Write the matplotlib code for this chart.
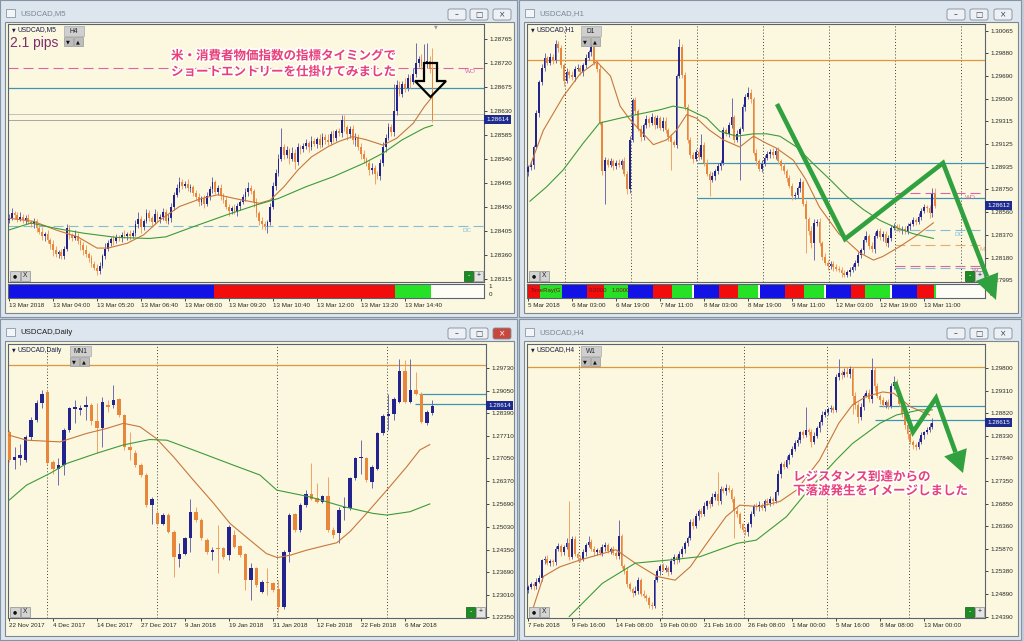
import numpy as np
import matplotlib
matplotlib.use("Agg")
import matplotlib.pyplot as plt
from matplotlib.patches import Rectangle, Polygon, FancyBboxPatch
from matplotlib.transforms import blended_transform_factory
import matplotlib.patheffects as pe

W, H = 1024, 641
plt.rcParams['font.family'] = ['Liberation Sans', 'DejaVu Sans']
JP = ['Noto Sans CJK JP', 'DejaVu Sans']

# ---------------- USDCAD M5 (points above 1.28300) ----------------
m5_base, m5_unit = 1.28300, 1e-5
m5_open0 = 126
m5_close = [130, 138, 135, 128, 132, 126, 129, 122, 118, 124,
            110, 104, 96, 100, 88, 80, 70, 62, 66, 58,
            72, 110, 98, 92, 96, 86,
            78, 70, 62, 54, 44, 36, 30,
            40, 58, 72, 82, 90, 86, 94, 92, 98, 95, 100, 96, 102,
            118, 128, 112, 124, 138, 130, 122, 136, 128, 132, 140, 124, 130, 150,
            172, 186, 196, 190, 194, 186, 188,
            176, 168, 160, 166, 156,
            170, 184, 196, 178, 186, 172,
            164, 150, 142, 148, 140,
            152, 160, 168, 178, 186, 180,
            160, 138, 124, 118, 114, 122,
            150, 190, 214, 240, 262,
            248, 256, 240, 252, 234, 262, 258,
            264, 270, 262, 274, 268, 278, 266, 282, 276, 272, 286, 280, 292, 288, 314,
            300, 286, 296, 276, 282, 262,
            250, 240, 232, 220, 224, 212, 208, 232,
            262, 280, 300, 290, 330, 378,
            362, 380, 374, 392, 384, 400,
            420, 428, 414, 418,
            424, 408,
            314]
m5_wick_up = [6, 10, 4, 6, 8, 4, 6, 8, 4, 6,
              4, 6, 8, 4, 6, 4, 8, 6, 4, 6,
              4, 8, 6, 4, 10, 6, 4, 6, 8, 4,
              6, 4, 8, 6, 4, 10, 6, 4, 8, 6,
              4, 6, 8, 4, 6, 4, 8, 12, 6, 4,
              8, 6, 4, 10, 6, 4, 8, 6, 6, 8,
              6, 8, 10, 6, 4, 8, 6, 4, 6, 8,
              4, 6, 8, 6, 10, 4, 6, 8, 4, 6,
              6, 4, 8, 6, 4, 6, 8, 10, 6, 4,
              6, 4, 8, 6, 4, 8, 6, 8, 10, 36,
              6, 8, 4, 10, 6, 8, 4, 6, 8, 4,
              10, 6, 4, 8, 6, 4, 10, 6, 8, 4,
              6, 8, 8, 4, 6, 8, 6, 4, 8, 6,
              4, 6, 8, 4, 6, 8, 10, 6, 8, 6,
              50, 10, 8, 6, 12, 8, 6, 10, 37, 6,
              8, 38, 33, 10, 40]
m5_wick_dn = [6, 4, 8, 6, 4, 6, 8, 4, 6, 8,
              6, 4, 8, 10, 6, 8, 12, 6, 8, 6,
              6, 4, 8, 6, 4, 6, 8, 10, 6, 8,
              6, 4, 8, 6, 4, 6, 4, 6, 8, 4,
              6, 8, 4, 6, 8, 4, 6, 8, 10, 6,
              4, 6, 8, 4, 6, 8, 6, 4, 6, 8,
              6, 4, 8, 6, 4, 6, 8, 6, 4, 8,
              6, 8, 4, 6, 8, 4, 6, 8, 6, 4,
              8, 6, 4, 6, 8, 4, 6, 8, 6, 10,
              6, 8, 10, 7, 12, 6, 4, 8, 6, 4,
              8, 6, 10, 4, 12, 6, 8, 4, 6, 8,
              6, 4, 8, 6, 4, 8, 6, 4, 8, 6,
              4, 6, 8, 10, 6, 8, 12, 6, 10, 8,
              6, 10, 8, 18, 6, 8, 6, 8, 4, 6,
              6, 8, 4, 6, 8, 6, 10, 4, 6, 8,
              6, 10, 8, 6, 4]
m5_ma_fast_i = [0, 9, 17, 25, 32, 36, 43, 49, 55, 62, 70, 76, 82, 91, 95, 100, 105, 110,
                116, 120, 125, 130, 136, 141, 147, 151, 154]
m5_ma_fast = [129, 123, 107, 94, 73, 73, 82, 98, 126, 151, 166, 173, 166, 157, 163, 188, 219, 244,
              263, 273, 282, 276, 266, 279, 307, 338, 357]
m5_ma_slow_i = [0, 8, 17, 27, 39, 51, 57, 67, 79, 90, 98, 108, 118, 129, 136, 143, 151, 154]
m5_ma_slow = [107, 120, 110, 101, 93, 91, 94, 113, 135, 154, 166, 188, 207, 232, 251, 276, 298, 303]
m5_ticks = [1.28765, 1.28720, 1.28675, 1.28630, 1.28585, 1.28540, 1.28495, 1.28450,
            1.28405, 1.28360, 1.28315]
m5_time_labels = ['13 Mar 2018', '13 Mar 04:00', '13 Mar 05:20', '13 Mar 06:40', '13 Mar 08:00',
                  '13 Mar 09:20', '13 Mar 10:40', '13 Mar 12:00', '13 Mar 13:20', '13 Mar 14:40']
m5_sess_start = [0, 75, 141]
m5_sess_end = [75, 141, 154]
m5_sess_color = ['#1212e6', '#f20c0c', '#26e226']
m5_wo, m5_level, m5_ask, m5_bid, m5_dc = 1.28711, 1.28673, 1.28624, 1.28614, 1.28414

# ---------------- USDCAD H1 (pips above 1.28000) ----------------
h1_base, h1_unit = 1.28000, 1e-4
h1_open0 = 89
h1_close = [93, 95, 110, 138, 164, 176, 184, 180, 185, 182,
            196, 192, 178, 165, 172, 170, 168, 175, 176, 172,
            178, 184, 189, 193, 180, 175, 130, 90, 99, 95,
            98, 94, 97, 95, 98, 88, 75, 116, 149, 140,
            125, 118, 128, 133, 130, 135, 128, 134, 126, 132,
            124, 118, 114, 112, 169, 193, 170, 143, 116, 103,
            100, 106, 102, 112, 97, 88, 83, 86, 90, 94,
            97, 124, 121, 128, 135, 116, 121, 125, 143, 152,
            155, 150, 105, 98, 92, 96, 101, 104, 106, 103,
            107, 98, 94, 90, 84, 78, 69, 70, 76, 81,
            63, 50, 40, 30, 47, 48, 30, 19, 14, 11,
            13, 10, 9, 8, 5, 4, 6, 8, 10, 14,
            20, 24, 33, 36, 28, 25, 36, 40, 35, 38,
            30, 34, 43, 44, 43, 41, 42, 40, 44, 46,
            49, 48, 52, 57, 60, 59, 55, 71, 61.2]
h1_wick_up = [2, 3, 2, 3, 2, 3, 4, 2, 3, 2,
              3, 2, 3, 2, 4, 2, 3, 2, 3, 2,
              2, 3, 2, 3, 4, 2, 3, 2, 3, 2,
              3, 2, 2, 3, 2, 4, 2, 3, 2, 3,
              2, 3, 2, 4, 2, 3, 2, 3, 2, 3,
              3, 2, 3, 2, 2, 7, 3, 2, 3, 2,
              3, 2, 3, 9, 2, 3, 2, 3, 2, 3,
              2, 3, 2, 3, 16, 2, 3, 2, 3, 2,
              5, 3, 2, 3, 2, 3, 2, 3, 2, 3,
              2, 3, 2, 3, 2, 3, 2, 3, 2, 3,
              2, 3, 2, 4, 3, 2, 3, 2, 3, 2,
              2, 2, 3, 2, 2, 3, 2, 2, 3, 2,
              3, 2, 3, 4, 2, 3, 3, 2, 3, 2,
              2, 3, 2, 3, 2, 3, 2, 2, 3, 2,
              3, 2, 3, 2, 3, 2, 3, 5, 5]
h1_wick_dn = [3, 2, 3, 2, 3, 2, 3, 2, 2, 3,
              2, 3, 2, 4, 2, 3, 2, 3, 2, 2,
              3, 2, 2, 3, 2, 3, 2, 3, 27, 2,
              2, 3, 2, 2, 3, 2, 4, 3, 2, 3,
              2, 3, 2, 2, 3, 2, 3, 2, 2, 3,
              2, 3, 23, 2, 3, 2, 3, 2, 3, 2,
              3, 2, 3, 2, 3, 2, 14, 2, 3, 2,
              3, 2, 2, 3, 2, 3, 2, 38, 2, 3,
              2, 3, 2, 3, 2, 3, 2, 2, 3, 2,
              3, 2, 3, 2, 3, 2, 3, 2, 2, 3,
              2, 28, 3, 4, 14, 3, 2, 3, 2, 3,
              2, 3, 2, 2, 3, 2, 2, 3, 2, 2,
              3, 2, 3, 2, 3, 2, 3, 2, 2, 3,
              2, 3, 2, 2, 3, 2, 3, 2, 2, 3,
              2, 3, 2, 3, 2, 3, 4, 3, 2]
h1_ma_fast_i = [0.7, 5.6, 12.8, 19, 25, 30, 33.5, 37, 40.7, 45.6, 50.4, 54, 57.7, 61.3, 66, 71,
                77, 82, 86.8, 90.4, 96.5, 101, 106, 113, 120.7, 125.6, 129, 135, 141, 147.4]
h1_ma_fast = [94, 124, 152, 171, 181, 169, 144, 133, 124, 112, 116, 124, 137, 134, 124, 116,
              110, 119, 113, 109, 99, 83, 60, 38, 22, 16, 19, 27, 36, 47]
h1_ma_slow_i = [0.7, 6.8, 12.8, 20, 26, 33.5, 39.5, 48, 52.8, 57.7, 65, 69.8, 75.9, 82, 86.8,
                91.6, 97.7, 103.8, 109.8, 115.9, 122, 128, 132.8, 140, 147.4]
h1_ma_slow = [65, 77, 91, 113, 130, 134, 137, 141, 144, 142, 134, 123, 119, 121, 121,
              119, 110, 96, 83, 69, 58, 49, 44, 38, 34]
h1_ticks = [1.30065, 1.29880, 1.29690, 1.29500, 1.29315, 1.29125, 1.28935, 1.28750,
            1.28560, 1.28370, 1.28180, 1.27995]
h1_time_labels = ['5 Mar 2018', '6 Mar 03:00', '6 Mar 19:00', '7 Mar 11:00', '8 Mar 03:00',
                  '8 Mar 19:00', '9 Mar 11:00', '12 Mar 03:00', '12 Mar 19:00', '13 Mar 11:00']
h1_day_sep = [13.3, 37.3, 61.3, 85.3, 109.3, 133.3, 157.3]
h1_sess_start = [0, 5, 13, 22, 28, 37, 46, 53, 61, 70, 77, 85, 94, 101, 109, 118, 123, 133, 142, 148]
h1_sess_end = [5, 13, 22, 28, 37, 46, 53, 60, 70, 77, 84, 94, 101, 108, 118, 123, 132, 142, 148, 149]
h1_sess_color = ['#f20c0c', '#26e226', '#1212e6', '#f20c0c', '#26e226', '#1212e6', '#f20c0c',
                 '#26e226', '#1212e6', '#f20c0c', '#26e226', '#1212e6', '#f20c0c', '#26e226',
                 '#1212e6', '#f20c0c', '#26e226', '#1212e6', '#f20c0c', '#26e226']
h1_resist = 1.29820
h1_zone_hi, h1_zone_lo, h1_zone_from = 1.28965, 1.28677, 61.4
h1_wo, h1_dc, h1_m, h1_wc1, h1_wc2, h1_piv_from = 1.28719, 1.28411, 1.28287, 1.28112, 1.28095, 133.3

# ---------------- USDCAD Daily (pips above 1.22000) ----------------
d1_base, d1_unit = 1.22000, 1e-4
d1_open = [584, 500, 505, 500, 569, 619, 668, 703, 495, 475,
           485, 589, 650, 648, 656, 663, 616, 594, 663, 663,
           680, 633, 539, 520, 485, 456, 367, 342, 312, 337,
           288, 208, 223, 268, 347, 322, 263, 228, 238, 238,
           218, 278, 245, 221, 144, 179, 110, 138, 135, 117,
           65, 228, 340, 292, 367, 401, 389, 376, 393, 292,
           283, 357, 357, 446, 505, 505, 436, 475, 579, 630,
           638, 673, 765, 673, 709, 697, 609, 641]
d1_high = [589, 539, 549, 574, 628, 678, 709, 707, 500, 505,
           594, 658, 678, 663, 690, 668, 668, 688, 678, 722,
           683, 638, 584, 530, 490, 461, 391, 352, 342, 342,
           292, 253, 273, 386, 362, 327, 268, 243, 307, 243,
           307, 292, 248, 225, 194, 184, 145, 179, 140, 144,
           233, 342, 344, 372, 411, 490, 431, 396, 451, 302,
           362, 391, 451, 510, 559, 510, 485, 584, 638, 697,
           688, 801, 796, 801, 762, 702, 648, 678]
d1_low = [495, 475, 485, 495, 559, 614, 653, 485, 460, 426,
          456, 584, 609, 633, 619, 604, 520, 539, 643, 653,
          628, 530, 500, 480, 451, 362, 312, 307, 307, 283,
          154, 184, 218, 228, 317, 263, 223, 204, 164, 208,
          204, 238, 213, 115, 85, 125, 105, 100, 110, 50,
          60, 199, 288, 288, 362, 381, 372, 372, 288, 268,
          253, 322, 352, 441, 460, 436, 416, 470, 574, 589,
          619, 668, 668, 668, 694, 609, 604, 633]
d1_close = [500, 510, 515, 569, 619, 668, 697, 490, 475, 485,
            589, 653, 658, 655, 663, 616, 594, 673, 658, 678,
            633, 539, 530, 485, 456, 367, 386, 312, 337, 288,
            213, 223, 268, 347, 322, 268, 228, 235, 236, 213,
            302, 243, 218, 144, 179, 130, 140, 135, 115, 65,
            228, 337, 292, 367, 401, 386, 376, 393, 292, 278,
            352, 362, 446, 505, 507, 441, 480, 579, 630, 638,
            682, 765, 673, 707, 697, 614, 643, 661.4]
d1_ma_fast_i = [0, 3.2, 9.3, 14.1, 17.8, 20.8, 23.8, 26.8, 29.9, 33.5, 37.2, 40.2, 43.8, 46.8,
                48.8, 51.1, 54.1, 57.8, 59.6, 62, 65, 68.7, 72.3, 74.7, 76.5]
d1_ma_fast = [574, 559, 554, 579, 594, 609, 599, 564, 510, 441, 372, 312, 263, 223,
              211, 218, 233, 248, 255, 288, 342, 411, 480, 530, 546]
d1_ma_slow_i = [0, 3.2, 7.5, 10.5, 15.9, 20.8, 25.6, 28.7, 33.5, 40.8, 45.6, 48.7, 54.7, 60.8,
                66.2, 68.7, 72.9, 76.5]
d1_ma_slow = [381, 426, 461, 490, 520, 545, 561, 559, 530, 485, 456, 411, 391, 362,
              342, 337, 347, 370]
d1_ticks = [1.29730, 1.29050, 1.28390, 1.27710, 1.27050, 1.26370, 1.25690, 1.25030,
            1.24350, 1.23690, 1.23010, 1.22350]
d1_time_labels = ['22 Nov 2017', '4 Dec 2017', '14 Dec 2017', '27 Dec 2017', '9 Jan 2018',
                  '19 Jan 2018', '31 Jan 2018', '12 Feb 2018', '22 Feb 2018', '6 Mar 2018']
d1_month_sep = [6.9, 26.9, 48.7, 68.7]
d1_zone_from_hi, d1_zone_from_lo = 74.6, 73.8

# ---------------- USDCAD H4 (pips above 1.24000) ----------------
h4_base, h4_unit = 1.24000, 1e-4
h4_open0 = 98
h4_close = [104, 110, 106, 116, 124, 162, 166, 156, 160, 158,
            186, 194, 180, 190, 200, 170, 208, 176, 168, 164,
            180, 196, 202, 186, 180, 184, 178, 190, 196, 182,
            186, 178, 172, 214, 150, 140, 110, 100, 92, 96,
            120, 90, 84, 80, 66, 62, 120, 138, 150, 142,
            146, 136, 160, 170, 162, 176, 186, 200, 210, 246,
            236, 258, 270, 262, 280, 290, 284, 300, 306, 290,
            318, 312, 320, 316, 296, 270, 262, 240, 228, 224,
            240, 262, 280, 278, 282, 276, 290, 286, 296, 290,
            310, 350, 372, 366, 380, 392, 404, 416, 424, 440,
            434, 446, 442, 420, 432, 450, 462, 478, 484, 492,
            494, 488, 560, 570, 564, 572, 566, 578, 520, 500,
            474, 496, 520, 526, 512, 576, 540, 520, 510, 500,
            506, 498, 540, 550, 530, 502, 480, 456, 436, 420,
            412, 408, 420, 434, 440, 446, 452, 461.5]
h4_wick_up = [4, 6, 4, 8, 6, 4, 6, 8, 4, 6,
              8, 6, 4, 6, 10, 90, 6, 8, 4, 6,
              6, 4, 14, 6, 8, 4, 6, 8, 6, 4,
              6, 8, 4, 36, 6, 4, 8, 6, 4, 10,
              6, 4, 8, 6, 4, 6, 8, 6, 4, 6,
              6, 4, 8, 6, 4, 6, 8, 4, 6, 6,
              8, 6, 4, 6, 8, 4, 6, 8, 6, 49,
              6, 4, 8, 6, 4, 6, 8, 6, 4, 6,
              6, 8, 4, 6, 8, 4, 6, 8, 6, 4,
              6, 8, 4, 6, 8, 4, 6, 8, 6, 4,
              6, 50, 4, 6, 8, 4, 6, 8, 6, 4,
              6, 4, 8, 30, 6, 8, 10, 6, 4, 8,
              6, 8, 4, 6, 8, 25, 6, 8, 4, 6,
              4, 6, 8, 12, 6, 4, 8, 6, 4, 6,
              4, 6, 8, 6, 4, 6, 8, 10]
h4_wick_dn = [6, 4, 8, 6, 4, 6, 8, 4, 6, 8,
              6, 4, 8, 6, 4, 8, 6, 4, 8, 6,
              4, 8, 6, 4, 8, 6, 4, 6, 8, 4,
              6, 4, 8, 6, 4, 8, 6, 4, 10, 6,
              8, 6, 4, 6, 8, 6, 4, 6, 8, 4,
              6, 8, 4, 6, 8, 4, 6, 8, 6, 4,
              6, 4, 8, 6, 4, 6, 8, 4, 6, 8,
              6, 4, 8, 6, 8, 60, 6, 8, 4, 6,
              8, 6, 4, 6, 8, 4, 6, 4, 6, 8,
              4, 6, 8, 6, 4, 8, 6, 4, 6, 8,
              6, 4, 8, 12, 6, 4, 8, 6, 4, 6,
              8, 6, 4, 6, 8, 4, 6, 8, 40, 10,
              14, 6, 8, 4, 6, 8, 10, 6, 8, 4,
              6, 8, 4, 6, 8, 4, 6, 8, 10, 6,
              8, 6, 4, 6, 8, 4, 6, 4]
h4_ma_fast_i = [2, 5.6, 11.6, 19, 32, 39, 47, 53.5, 59, 65, 72, 77, 84, 91.6, 97.7, 106, 113,
                118, 123, 129, 133, 139, 146]
h4_ma_fast = [61, 127, 148, 163, 185, 156, 127, 119, 148, 199, 257, 282, 279, 290, 315, 380, 460,
              500, 518, 528, 525, 496, 478]
h4_ma_slow_i = [15, 27, 39, 51.6, 62.5, 76, 83, 94, 101, 112, 118, 128, 134, 142.5, 147]
h4_ma_slow = [40, 112, 156, 163, 170, 199, 206, 257, 308, 380, 416, 460, 478, 489, 489]
h4_ticks = [1.29800, 1.29310, 1.28820, 1.28330, 1.27840, 1.27350, 1.26850, 1.26360,
            1.25870, 1.25380, 1.24890, 1.24390]
h4_time_labels = ['7 Feb 2018', '9 Feb 16:00', '14 Feb 08:00', '19 Feb 00:00', '21 Feb 16:00',
                  '26 Feb 08:00', '1 Mar 00:00', '5 Mar 16:00', '8 Mar 08:00', '13 Mar 00:00']
h4_week_sep = [18.7, 48.7, 78.7, 108.7, 138.7]
h4_zone_from_hi, h4_zone_from_lo = 127.6, 126.2

# ---------------- styling ----------------
CREAM = '#fbf8df'
BULL, BEAR = '#23238e', '#e8873b'
BULL_WICK, BEAR_WICK = '#6f6cb0', '#eea267'
MA_FAST, MA_SLOW = '#c8763c', '#3e9a3a'
ORANGE_LINE, TEAL = '#e0953f', '#3f93b4'
PINK, LIGHT_BLUE, PALE_ORANGE = '#d964a8', '#82bfd6', '#e6ac6a'
ARROW_GREEN = '#31a13f'
TEXT_PINK = '#e8407a'

fig = plt.figure(figsize=(W / 100, H / 100), dpi=100)
fig.patch.set_facecolor('#c2ccd7')


def rect(x0, y0, x1, y1):
    return [x0 / W, 1 - y1 / H, (x1 - x0) / W, (y1 - y0) / H]


bg = fig.add_axes([0, 0, 1, 1], zorder=0)
bg.set_xlim(0, W)
bg.set_ylim(H, 0)
bg.axis('off')
top = fig.add_axes([0, 0, 1, 1], zorder=20)
top.set_xlim(0, W)
top.set_ylim(H, 0)
top.axis('off')


def window(x0, y0, x1, y1, title, buttons_x, active=False):
    bg.add_patch(Rectangle((x0, y0), x1 - x0, y1 - y0, fc='#dde5ee', ec='#8593a3', lw=0.8))
    bg.add_patch(Rectangle((x0 + 5, y0 + 22), x1 - x0 - 8, y1 - y0 - 26, fc=CREAM,
                           ec='#7e8894', lw=0.8))
    bg.add_patch(Rectangle((x0 + 6, y0 + 9), 9, 8, fc='#f3f6f9', ec='#8a97a5', lw=0.6))
    bg.text(x0 + 20, y0 + 14, title, fontsize=5.6, va='center', ha='left',
            color='#202020' if active else '#7c8894')
    glyphs = ['\u2013', '\u25a1', '\u00d7']
    for k, bx in enumerate(buttons_x):
        red = active and k == 2
        bg.add_patch(FancyBboxPatch((bx, y0 + 9), 18, 11,
                                    boxstyle='round,pad=0,rounding_size=2',
                                    fc='#c8473b' if red else '#edf1f5', ec='#7f8b98', lw=0.6))
        bg.text(bx + 9, y0 + 14.5, glyphs[k], fontsize=5.5, ha='center', va='center',
                family='DejaVu Sans', color='white' if red else '#3e4853')


def price_axes(r, xlim, ylim, ticks):
    ax = fig.add_axes(rect(*r), zorder=5)
    ax.set_facecolor(CREAM)
    ax.set_xlim(*xlim)
    ax.set_ylim(*ylim)
    ax.yaxis.tick_right()
    ax.set_yticks(ticks, [f'{t:.5f}' for t in ticks])
    ax.tick_params(axis='both', length=2.5, width=0.6, colors='#262626', labelsize=4.5, pad=1.2)
    for s in ax.spines.values():
        s.set_color('#5a6371')
        s.set_linewidth(0.8)
    return ax


def time_axis(ax, labels, step):
    ax.set_xticks(np.arange(len(labels)) * step, labels)
    for t in ax.get_xticklabels():
        t.set_ha('left')


def ohlc_chain(open0, close, wick_up, wick_dn, base, unit):
    c = np.asarray(close, float)
    o = np.concatenate([[open0], c[:-1]])
    h = np.maximum(o, c) + np.asarray(wick_up, float)
    l = np.minimum(o, c) - np.asarray(wick_dn, float)
    return tuple(base + unit * v for v in (o, h, l, c))


def draw_candles(ax, o, h, l, c, width, px_height):
    x = np.arange(len(c))
    up = c >= o
    y0, y1 = ax.get_ylim()
    min_body = (y1 - y0) / px_height
    ax.vlines(x, l, h, colors=np.where(up, BULL_WICK, BEAR_WICK), lw=0.7, zorder=3)
    ax.bar(x, np.maximum(np.abs(c - o), min_body), width=width, bottom=np.minimum(o, c),
           color=np.where(up, BULL, BEAR), lw=0, zorder=4)


def draw_ma(ax, xi, vals, base, unit, color):
    ax.plot(xi, base + unit * np.asarray(vals, float), color=color, lw=0.8, zorder=5)


def current_price(ax, price):
    tr = blended_transform_factory(ax.transAxes, ax.transData)
    ax.annotate(f'{price:.5f}', xy=(1, price), xycoords=tr, xytext=(1.6, 0),
                textcoords='offset points', va='center', ha='left', fontsize=4.5, color='white',
                bbox=dict(boxstyle='square,pad=0.3', fc='#1d2b8e', ec='none'),
                annotation_clip=False, zorder=30)


def level_label(ax, xfrac, price, text, color):
    tr = blended_transform_factory(ax.transAxes, ax.transData)
    ax.annotate(text, xy=(xfrac, price), xycoords=tr, xytext=(0, -1.2), textcoords='offset points',
                va='top', ha='left', fontsize=4.6, color=color, zorder=6)


def indicator(r, xlim, starts, ends, colors, labels, step):
    ax = fig.add_axes(rect(*r), zorder=5)
    ax.set_facecolor('#fdfdf5')
    ax.set_xlim(*xlim)
    ax.set_ylim(0, 1)
    for s, e, col in zip(starts, ends, colors):
        ax.bar(s - 0.5, 1, width=e - s, align='edge', color=col, lw=0)
    ax.set_yticks([])
    time_axis(ax, labels, step)
    ax.tick_params(axis='x', length=2.5, width=0.6, colors='#262626', labelsize=4.5, pad=1.2)
    for s in ax.spines.values():
        s.set_color('#5a6371')
        s.set_linewidth(0.8)
    ax.text(1.01, 0.98, '1', transform=ax.transAxes, fontsize=4.5, va='top', color='#262626')
    ax.text(1.01, 0.02, '0', transform=ax.transAxes, fontsize=4.5, va='bottom', color='#262626')
    return ax


def chart_label(x, y, text, tf, bx, bw=20):
    top.text(x, y, '\u25bc', fontsize=3.4, color='#1a1a4a', va='center', ha='left',
             family='DejaVu Sans')
    top.text(x + 5.5, y, text, fontsize=4.8, color='#1a1a4a', va='center', ha='left')
    by = y - 4
    top.add_patch(Rectangle((bx, by), bw, 10, fc='#cfcfcf', ec='#a9a9a9', lw=0.5))
    top.text(bx + bw / 2, by + 5.3, tf, fontsize=4.8, color='#222222', ha='center', va='center')
    for k, g in enumerate(['\u25bc', '\u25b2']):
        top.add_patch(Rectangle((bx + 10 * k, by + 11), 8.5, 9, fc='#bdbdbd', ec='#999999', lw=0.5))
        top.text(bx + 10 * k + 4.25, by + 15.6, g, fontsize=3.6, color='#111111', ha='center',
                 va='center', family='DejaVu Sans')


def corner_buttons(xl, xr, yb):
    top.add_patch(Rectangle((xl + 2, yb - 11), 9.5, 9.5, fc='#d3d3d3', ec='#8c8c8c', lw=0.5))
    top.text(xl + 6.8, yb - 6.2, '\u25cf', fontsize=3.4, color='#111111', ha='center',
             va='center', family='DejaVu Sans')
    top.add_patch(Rectangle((xl + 12.5, yb - 11), 9.5, 9.5, fc='#d3d3d3', ec='#8c8c8c', lw=0.5))
    top.text(xl + 17.3, yb - 6.2, 'X', fontsize=4.8, color='#222222', ha='center', va='center')
    top.add_patch(Rectangle((xr - 20, yb - 11), 9, 10, fc='#1d8b23', ec='#0f5a12', lw=0.5))
    top.text(xr - 15.5, yb - 6.2, '-', fontsize=5, color='white', ha='center', va='center')
    top.add_patch(Rectangle((xr - 10, yb - 11), 9, 10, fc='#e4e4e4', ec='#8c8c8c', lw=0.5))
    top.text(xr - 5.5, yb - 6.2, '+', fontsize=5, color='#222222', ha='center', va='center')


def green_arrow(pts, head):
    xs, ys = zip(*pts)
    top.plot(xs, ys, color=ARROW_GREEN, lw=3.3, solid_joinstyle='miter',
             solid_capstyle='butt', zorder=3)
    top.add_patch(Polygon(head, closed=True, fc=ARROW_GREEN, ec='none', zorder=4))


def jp_text(x, y, text):
    top.text(x, y, text, fontsize=9, color=TEXT_PINK, family=JP, weight='bold',
             va='center', ha='left',
             path_effects=[pe.Stroke(linewidth=2.4, foreground='white'), pe.Normal()])


# ---------------- windows ----------------
window(0, 0, 517, 317, 'USDCAD,M5', [448, 470, 493])
window(519, 0, 1021, 317, 'USDCAD,H1', [947, 970, 994])
window(0, 319, 517, 640, 'USDCAD,Daily', [448, 470, 493], active=True)
window(519, 319, 1021, 640, 'USDCAD,H4', [947, 970, 994])

# ---------------- M5 panel ----------------
ax = price_axes((8, 24, 484, 282), (-0.364, 172.73), (1.283094, 1.287931), m5_ticks)
ax.set_xticks([])
o, h, l, c = ohlc_chain(m5_open0, m5_close, m5_wick_up, m5_wick_dn, m5_base, m5_unit)
ax.axhline(m5_wo, color=PINK, lw=0.8, ls=(0, (9, 4.5)), zorder=2)
ax.axhline(m5_level, color=TEAL, lw=0.9, zorder=2)
ax.axhline(m5_ask, color='#b8b8b8', lw=0.6, zorder=2)
ax.axhline(m5_bid, color='#9a9a9a', lw=0.6, zorder=2)
ax.axhline(m5_dc, color=LIGHT_BLUE, lw=0.8, ls=(0, (9, 4.5)), zorder=2)
draw_candles(ax, o, h, l, c, 0.72, 258)
draw_ma(ax, m5_ma_fast_i, m5_ma_fast, m5_base, m5_unit, MA_FAST)
draw_ma(ax, m5_ma_slow_i, m5_ma_slow, m5_base, m5_unit, MA_SLOW)
level_label(ax, 0.96, m5_wo, 'WO', PINK)
level_label(ax, 0.955, m5_dc, 'DC', LIGHT_BLUE)
current_price(ax, c[-1])
indicator((8, 283.5, 484, 297.5), (-0.364, 172.73), m5_sess_start, m5_sess_end, m5_sess_color,
          m5_time_labels, 16)

# ---------------- H1 panel ----------------
ax = price_axes((527, 24, 985, 282), (-0.364, 166.18), (1.27978, 1.30123), h1_ticks)
ax.set_xticks([])
for s in h1_day_sep:
    ax.axvline(s, color='#3c3c3c', lw=0.7, ls=(0, (1, 2.2)), zorder=1)
o, h, l, c = ohlc_chain(h1_open0, h1_close, h1_wick_up, h1_wick_dn, h1_base, h1_unit)
ax.axhline(h1_resist, color=ORANGE_LINE, lw=0.9, zorder=2)
ax.hlines([h1_zone_hi, h1_zone_lo], h1_zone_from, 166.18, color=TEAL, lw=0.9, zorder=2)
ax.hlines([h1_wo, h1_wc1], h1_piv_from, 166.18, color=PINK, lw=0.8, ls=(0, (9, 4.5)), zorder=2)
ax.hlines([h1_dc, h1_wc2], h1_piv_from, 166.18, color=LIGHT_BLUE, lw=0.8, ls=(0, (9, 4.5)), zorder=2)
ax.hlines([h1_m], h1_piv_from, 166.18, color=PALE_ORANGE, lw=0.8, ls=(0, (9, 4.5)), zorder=2)
draw_candles(ax, o, h, l, c, 0.72, 258)
draw_ma(ax, h1_ma_fast_i, h1_ma_fast, h1_base, h1_unit, MA_FAST)
draw_ma(ax, h1_ma_slow_i, h1_ma_slow, h1_base, h1_unit, MA_SLOW)
level_label(ax, 0.956, h1_wo, 'WO', PINK)
level_label(ax, 0.934, h1_dc, 'DC', LIGHT_BLUE)
level_label(ax, 0.988, h1_m, 'M', PALE_ORANGE)
level_label(ax, 0.972, h1_wc1, 'WC', PINK)
current_price(ax, c[-1])
ind = indicator((527, 283.5, 985, 297.5), (-0.364, 166.18), h1_sess_start, h1_sess_end,
                h1_sess_color, h1_time_labels, 16)
ind.text(1.0, 0.5, 'TimeRay(G', fontsize=4.3, color='#7a1020', va='center', ha='left',
         transform=blended_transform_factory(ind.transData, ind.transAxes))
ind.text(22.0, 0.5, '0.0000', fontsize=4.3, color='#7a1020', va='center', ha='left',
         transform=blended_transform_factory(ind.transData, ind.transAxes))
ind.text(30.2, 0.5, '1.0000', fontsize=4.3, color='#7a1020', va='center', ha='left',
         transform=blended_transform_factory(ind.transData, ind.transAxes))

# ---------------- Daily panel ----------------
ax = price_axes((8, 344, 486, 618), (-0.182, 86.73), (1.22320, 1.30441), d1_ticks)
time_axis(ax, d1_time_labels, 8)
for s in d1_month_sep:
    ax.axvline(s, color='#3c3c3c', lw=0.7, ls=(0, (1, 2.2)), zorder=1)
ax.axhline(h1_resist, color=ORANGE_LINE, lw=0.9, zorder=2)
ax.hlines([h1_zone_hi], d1_zone_from_hi, 86.73, color=TEAL, lw=0.9, zorder=2)
ax.hlines([h1_zone_lo], d1_zone_from_lo, 86.73, color=TEAL, lw=0.9, zorder=2)
o, h, l, c = (d1_base + d1_unit * np.asarray(v, float) for v in (d1_open, d1_high, d1_low, d1_close))
draw_candles(ax, o, h, l, c, 0.72, 274)
draw_ma(ax, d1_ma_fast_i, d1_ma_fast, d1_base, d1_unit, MA_FAST)
draw_ma(ax, d1_ma_slow_i, d1_ma_slow, d1_base, d1_unit, MA_SLOW)
current_price(ax, c[-1])

# ---------------- H4 panel ----------------
ax = price_axes((527, 344, 985, 618), (-0.364, 166.18), (1.24368, 1.30322), h4_ticks)
time_axis(ax, h4_time_labels, 16)
for s in h4_week_sep:
    ax.axvline(s, color='#3c3c3c', lw=0.7, ls=(0, (1, 2.2)), zorder=1)
ax.axhline(h1_resist, color=ORANGE_LINE, lw=0.9, zorder=2)
ax.hlines([h1_zone_hi], h4_zone_from_hi, 166.18, color=TEAL, lw=0.9, zorder=2)
ax.hlines([h1_zone_lo], h4_zone_from_lo, 166.18, color=TEAL, lw=0.9, zorder=2)
o, h, l, c = ohlc_chain(h4_open0, h4_close, h4_wick_up, h4_wick_dn, h4_base, h4_unit)
draw_candles(ax, o, h, l, c, 0.72, 274)
draw_ma(ax, h4_ma_fast_i, h4_ma_fast, h4_base, h4_unit, MA_FAST)
draw_ma(ax, h4_ma_slow_i, h4_ma_slow, h4_base, h4_unit, MA_SLOW)
current_price(ax, c[-1])

# ---------------- overlays ----------------
chart_label(12, 30, 'USDCAD,M5', 'H4', 64)
chart_label(531, 30, 'USDCAD,H1', 'D1', 581)
chart_label(12, 350, 'USDCAD,Daily', 'MN1', 70, 21)
chart_label(531, 350, 'USDCAD,H4', 'W1', 581)
corner_buttons(8, 484, 282)
corner_buttons(527, 985, 282)
corner_buttons(8, 486, 618)
corner_buttons(527, 985, 618)

top.text(10, 43, '2.1 pips', fontsize=10, color='#7c2e6c', va='center', ha='left')
top.text(436, 26.5, '\u25bc', fontsize=3.5, color='#9a9a9a', ha='center', va='center',
         family='DejaVu Sans')

jp_text(171, 56, '米・消費者物価指数の指標タイミングで')
jp_text(171, 72, 'ショートエントリーを仕掛けてみました')
jp_text(793, 477, 'レジスタンス到達からの')
jp_text(793, 491, '下落波発生をイメージしました')

top.add_patch(Polygon([(424, 63), (437, 63), (437, 81), (446, 81), (430.5, 97), (415, 81), (424, 81)],
                      closed=True, fc='none', ec='black', lw=1.6, joinstyle='miter'))

green_arrow([(777, 104), (845, 239), (943, 163), (987, 276.7)],
            [(975.8, 281), (998.2, 272.4), (996, 300)])
green_arrow([(895, 382), (913, 432), (936, 398), (955.5, 452.3)],
            [(944.2, 456.4), (966.8, 448.2), (963, 473)])

fig.savefig('out.png', dpi=100, facecolor=fig.get_facecolor())
